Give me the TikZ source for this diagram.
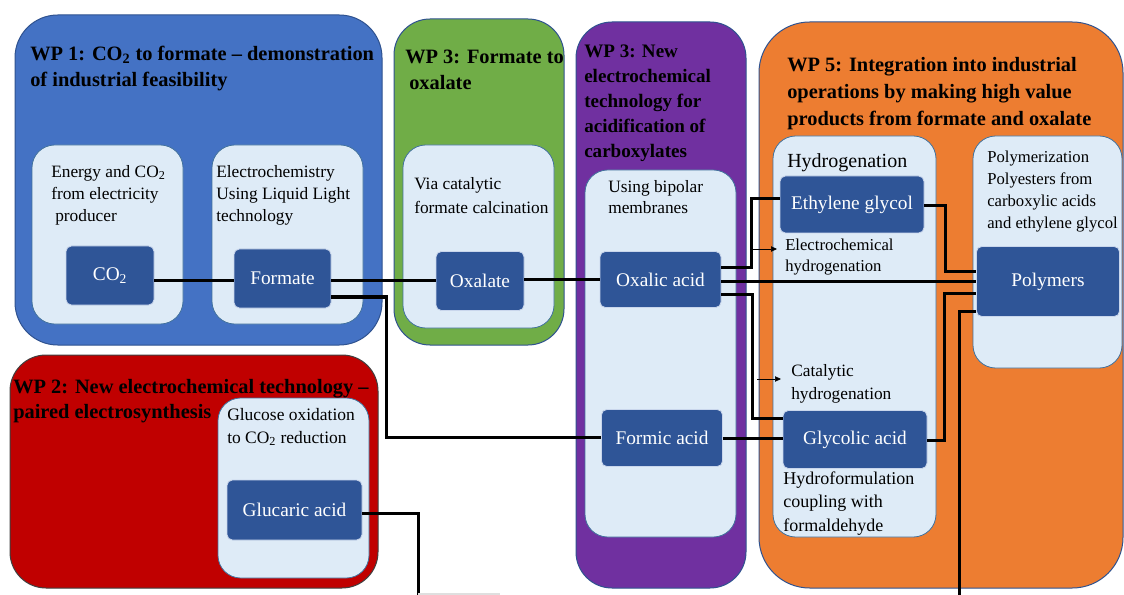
\documentclass[tikz,border=0pt]{standalone}
\usepackage{fontspec}
\setmainfont{Liberation Serif}
\usetikzlibrary{arrows.meta}
\definecolor{wpblue}{HTML}{4472C4}
\definecolor{wpgreen}{HTML}{70AD47}
\definecolor{wppurple}{HTML}{7030A0}
\definecolor{wporange}{HTML}{ED7D31}
\definecolor{wpred}{HTML}{C00000}
\definecolor{lightbox}{HTML}{DEEBF7}
\definecolor{lightedge}{HTML}{41719C}
\definecolor{darknode}{HTML}{2F5597}
\definecolor{darkedge}{HTML}{C9D6EC}
\definecolor{wpedge}{HTML}{2F528F}
\newcommand\asc{\rule{0pt}{.72em}}
\begin{document}
\begin{tikzpicture}[x=0.75pt,y=-0.75pt,
  wpbox/.style={draw=wpedge, line width=0.75pt},
  lbox/.style={fill=lightbox, draw=lightedge, line width=0.6pt, rounded corners=17pt},
  dk/.style 2 args={fill=darknode, draw=darkedge, line width=0.6pt, rounded corners=4pt,
     text=white, font=\fontsize{14.5}{17}\selectfont, inner sep=0pt,
     minimum width=#1*0.75pt, minimum height=#2*0.75pt},
  txt/.style={anchor=north west, inner sep=0pt, align=left, text=black},
  ttl/.style={txt, font=\bfseries\fontsize{15.3}{19.5}\selectfont},
  conn/.style={draw=black, line width=2.25pt},
  thinarrow/.style={draw=black, line width=0.5pt, -{Triangle[length=4.5pt,width=4pt]}}
]
\useasboundingbox (0,0) rectangle (1124,595);
\fill[white] (0,0) rectangle (1124,595);

% work package containers
\path[wpbox, fill=wpblue, rounded corners=32pt] (15,15) rectangle (382,345);
\path[wpbox, fill=wpgreen, rounded corners=27pt] (394,19) rectangle (564,345);
\path[wpbox, fill=wppurple, rounded corners=27pt] (576,22) rectangle (746,588);
\path[wpbox, fill=wporange, rounded corners=38pt] (759,22) rectangle (1123,588);
\path[wpbox, draw=black!75, fill=wpred, rounded corners=27pt] (10,355) rectangle (378,588);

% light sub-boxes
\path[lbox] (32,145) rectangle (183,324);
\path[lbox] (212,145) rectangle (363,324);
\path[lbox] (403,145) rectangle (554,328);
\path[lbox] (585,170) rectangle (736,537);
\path[lbox] (773,136) rectangle (936,537);
\path[lbox] (973,136) rectangle (1122,368);
\path[lbox] (218,398) rectangle (369,578);

% titles
\node[ttl] (t-wp1) at (30,45.3) {\asc WP 1: CO\textsubscript{2} to formate -- demonstration\\of industrial feasibility};
\node[ttl] (t-wp3a) at (405,48.3) {\asc WP 3: Formate to\\\hspace{3pt}oxalate};
\node[ttl, font=\bfseries\fontsize{14.3}{18.75}\selectfont] (t-wp3b) at (584,43.3)
  {\asc WP 3: New\\electrochemical\\technology for\\acidification of\\carboxylates};
\node[ttl, font=\bfseries\fontsize{15.3}{20.25}\selectfont] (t-wp5) at (787,56.3)
  {\asc WP 5: Integration into industrial\\operations by making high value\\products from formate and oxalate};
\node[ttl, font=\bfseries\fontsize{15.3}{18.75}\selectfont] (t-wp2) at (13,378.3)
  {\asc WP 2: New electrochemical technology --\\paired electrosynthesis};

% descriptive texts
\node[txt, font=\fontsize{13}{16.5}\selectfont] (d-energy) at (51,164.4)
  {\asc Energy and CO\textsubscript{2}\\from electricity\\\hspace{3pt}producer};
\node[txt, font=\fontsize{13}{16.5}\selectfont] (d-electro) at (216,164.4)
  {\asc Electrochemistry\\Using Liquid Light\\technology};
\node[txt, font=\fontsize{13}{18}\selectfont] (d-via) at (414,176.4)
  {\asc Via catalytic\\formate calcination};
\node[txt, font=\fontsize{13}{15.75}\selectfont] (d-bipolar) at (608,179.4)
  {\asc Using bipolar\\membranes};
\node[txt, font=\fontsize{15}{18}\selectfont] (d-hydro) at (787,152.6) {\asc Hydrogenation};
\node[txt, font=\fontsize{12.5}{15.75}\selectfont] (d-echem) at (785,238)
  {\asc Electrochemical\\hydrogenation};
\node[txt, font=\fontsize{13}{17.25}\selectfont] (d-cat) at (791,363.5)
  {\asc Catalytic\\hydrogenation};
\node[txt, font=\fontsize{13.5}{17.6}\selectfont] (d-hform) at (783,471)
  {\asc Hydroformulation\\coupling with\\formaldehyde};
\node[txt, font=\fontsize{12.5}{16.5}\selectfont] (d-polym) at (987,150)
  {\asc Polymerization\\Polyesters from\\carboxylic acids\\and ethylene glycol};
\node[txt, font=\fontsize{13.1}{17.25}\selectfont] (d-glucose) at (227,407.4)
  {\asc Glucose oxidation\\to CO\textsubscript{2} reduction};

% product nodes
\node[dk={88}{59}] (co2) at (110,275.5) {CO\textsubscript{2}};
\node[dk={97}{59}] (formate) at (282.5,278.5) {Formate};
\node[dk={88}{59}] (oxalate) at (480,281) {Oxalate};
\node[dk={121}{56}] (oxalic) at (660.5,279.5) {Oxalic acid};
\node[dk={121}{57}] (formic) at (662,438) {Formic acid};
\node[dk={144}{57}] (ethylene) at (852,204.5) {Ethylene glycol};
\node[dk={144}{58}] (glycolic) at (855,439.5) {Glycolic acid};
\node[dk={143}{70}] (polymers) at (1048,281.5) {Polymers};
\node[dk={135}{60}] (glucaric) at (294.5,510) {Glucaric acid};

% free ends
\coordinate (polyend) at (959,595);
\coordinate (glucend) at (418,595);
\coordinate (echemA) at (751,249);
\coordinate (echemB) at (777,249);
\coordinate (catA) at (757,379);
\coordinate (catB) at (781,379);
\coordinate (greyA) at (418,594);
\coordinate (greyB) at (500,594);

% connectors
\draw[conn] (co2.east |- 0,281) -- (formate.west |- 0,281);
\draw[conn] (formate.east |- 0,281) -- (oxalate.west |- 0,281);
\draw[conn] (formate.east |- 0,297) -| (386,437) -- (formic.west |- 0,437);
\draw[conn] (oxalate.east |- 0,280) -- (oxalic.west |- 0,280);
\draw[conn] (oxalic.east |- 0,268) -| (751,199) -- (ethylene.west |- 0,199);
\draw[conn] (oxalic.east |- 0,282) -- (polymers.west |- 0,282);
\draw[conn] (oxalic.east |- 0,295) -| (752,418) -- (glycolic.west |- 0,418);
\draw[conn] (formic.east |- 0,438) -- (glycolic.west |- 0,438);
\draw[conn] (ethylene.east |- 0,206) -| (945,272) -- (polymers.west |- 0,272);
\draw[conn] (glycolic.east |- 0,440) -| (944,294) -- (polymers.west |- 0,294);
\draw[conn] (polymers.west |- 0,311) -| (polyend);
\draw[conn] (glucaric.east |- 0,513) -| (glucend);
\draw[gray!25, line width=1.5pt] (greyA) -- (greyB);

% thin arrows
\draw[thinarrow] (echemA) -- (echemB);
\draw[thinarrow] (catA) -- (catB);
\end{tikzpicture}
\end{document}
